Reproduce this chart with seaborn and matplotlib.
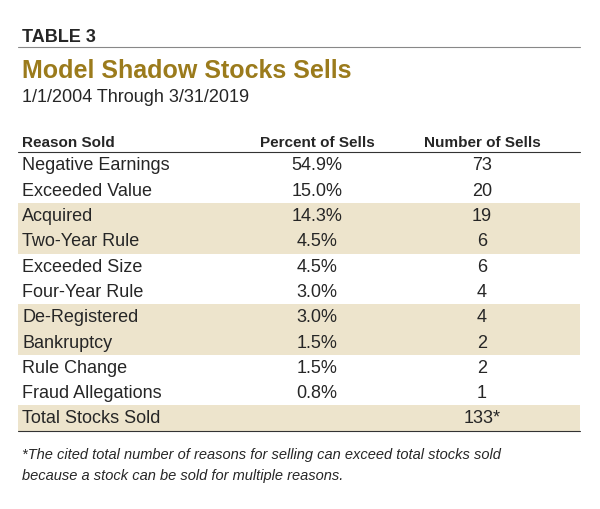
import matplotlib.pyplot as plt
import seaborn as sns

# ================= DATA =================
REASONS = ["Negative Earnings", "Exceeded Value", "Acquired", "Two-Year Rule",
           "Exceeded Size", "Four-Year Rule", "De-Registered", "Bankruptcy",
           "Rule Change", "Fraud Allegations", "Total Stocks Sold"]
PERCENTS = ["54.9%", "15.0%", "14.3%", "4.5%", "4.5%", "3.0%", "3.0%",
            "1.5%", "1.5%", "0.8%", ""]
COUNTS = ["73", "20", "19", "6", "6", "4", "4", "2", "2", "1", "133*"]
SHADED = [2, 3, 6, 7, 10]
HEADERS = ["Reason Sold", "Percent of Sells", "Number of Sells"]

sns.set_theme(style='white')
plt.rcParams['font.family'] = ['Liberation Sans Narrow', 'Liberation Sans', 'DejaVu Sans']

GOLD = '#9b7b1c'
BAND = '#ede4cc'


def draw_table():
    """Render the table with pixel coordinates."""
    fig = plt.figure(figsize=(6, 5.1), dpi=100)
    ax = fig.add_axes([0, 0, 1, 1])
    ax.set_xlim(0, 600)
    ax.set_ylim(510, 0)
    ax.axis('off')

    ax.text(22, 38, "TABLE 3", fontsize=13, fontweight='bold', va='center',
            family=['Liberation Sans', 'DejaVu Sans'])
    ax.plot([18, 580], [48, 48], color='#888888', lw=0.8)
    ax.text(22, 71, "Model Shadow Stocks Sells", fontsize=18, fontweight='bold',
            color=GOLD, va='center', family=['Liberation Sans', 'DejaVu Sans'])
    ax.text(22, 98, "1/1/2004 Through 3/31/2019", fontsize=13, va='center')

    ax.text(22, 143, HEADERS[0], fontsize=11, fontweight='bold', va='center')
    ax.text(317, 143, HEADERS[1], fontsize=11, fontweight='bold', va='center', ha='center')
    ax.text(482, 143, HEADERS[2], fontsize=11, fontweight='bold', va='center', ha='center')
    ax.plot([18, 580], [153, 153], color='#333333', lw=0.8)

    for i, (reason, pct, cnt) in enumerate(zip(REASONS, PERCENTS, COUNTS)):
        y = 166 + i * 25.3
        if i in SHADED:
            ax.add_patch(plt.Rectangle((18, y - 12.6), 562, 25.3, color=BAND, lw=0))
        ax.text(22, y, reason, fontsize=13, va='center')
        ax.text(317, y, pct, fontsize=13, va='center', ha='center')
        ax.text(482, y, cnt, fontsize=13, va='center', ha='center')
    ax.plot([18, 580], [432, 432], color='#333333', lw=0.8)

    ax.text(22, 455, "*The cited total number of reasons for selling can exceed total stocks sold",
            fontsize=10.5, style='italic', va='center')
    ax.text(22, 476, "because a stock can be sold for multiple reasons.",
            fontsize=10.5, style='italic', va='center')

    fig.savefig("out.png", dpi=100)
    plt.close(fig)


if __name__ == "__main__":
    draw_table()
